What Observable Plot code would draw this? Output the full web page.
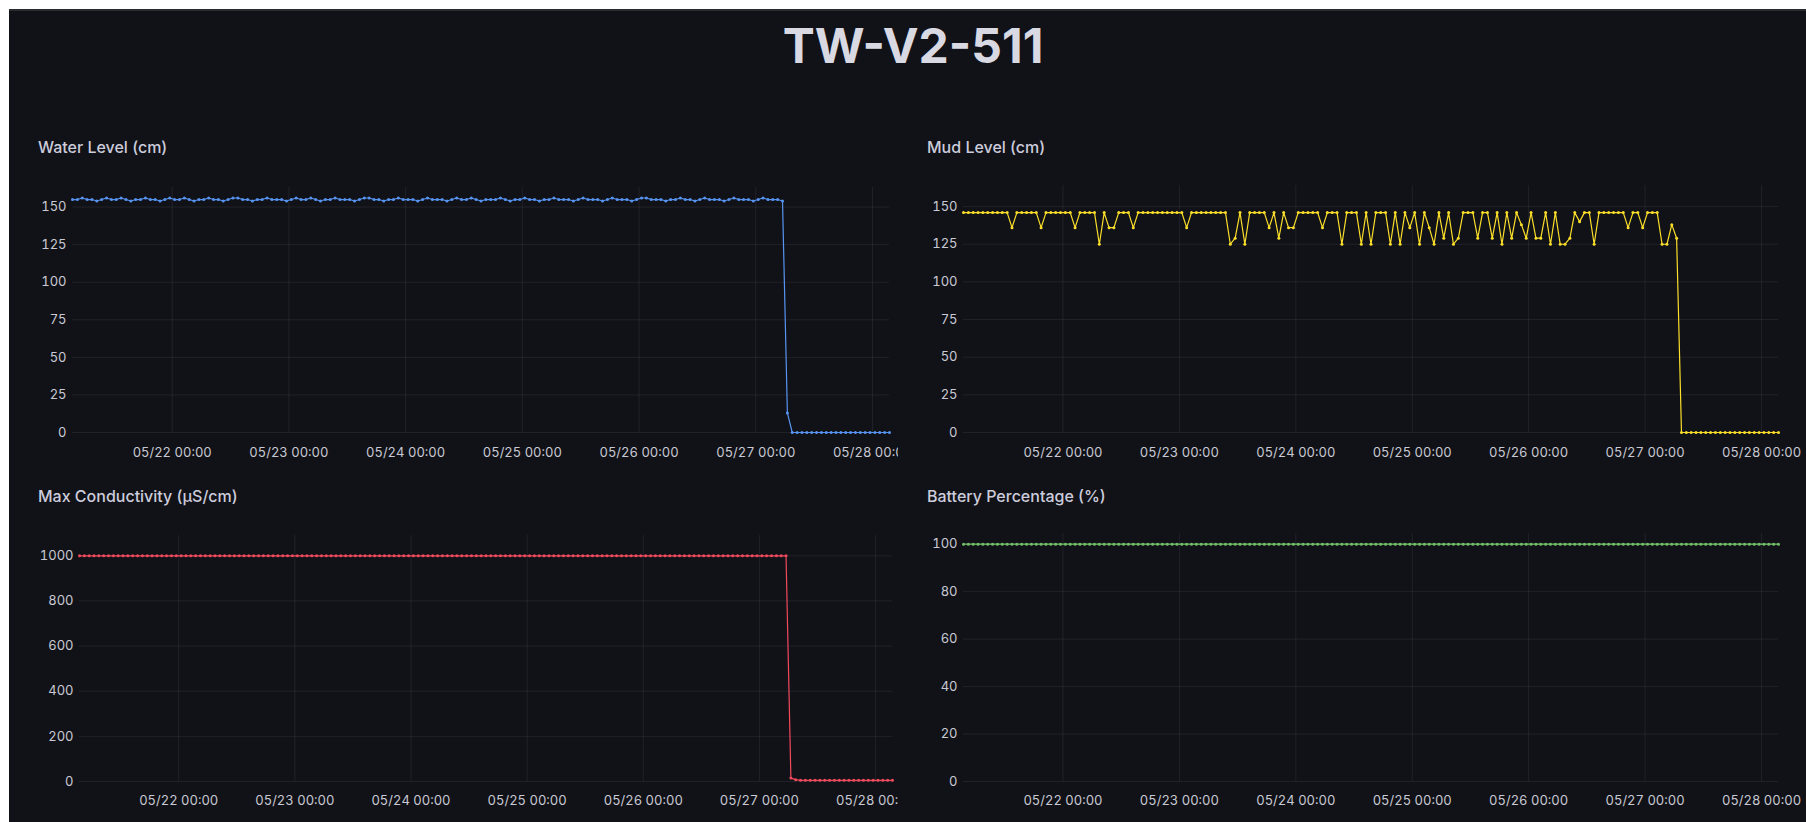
<!DOCTYPE html>
<html><head><meta charset="utf-8">
<script src="https://cdn.jsdelivr.net/npm/d3@7"></script>
<script src="https://cdn.jsdelivr.net/npm/@observablehq/plot@0.6"></script>
<style>
html,body{margin:0;padding:0;background:#ffffff;width:1806px;height:822px;overflow:hidden;font-family:Inter,"Noto Sans",sans-serif;}
#dash{position:absolute;left:9px;top:9px;width:1797px;height:813px;background:#111217;border-top:2px solid #2a2b31;box-sizing:border-box;}
#title{position:absolute;left:913px;top:18px;transform:translateX(-50%);font-size:48px;line-height:56px;font-weight:700;color:#d8d9e3;white-space:nowrap;letter-spacing:0px;}
.ptitle{position:absolute;font-size:16px;font-weight:500;color:#ccccdc;white-space:nowrap;line-height:18px;}
.clip{position:absolute;overflow:hidden;}
</style>
</head><body>
<div id="dash"></div>
<div id="title">TW-V2-511</div>
<script>
// ---- data (hourly readings starting 2024-05-21 03:30 UTC) ----
const firstReading = "2024-05-21T03:30:00Z";
const lastReading = "2024-05-28T03:30:00Z";
const xTickLabels = ["2024-05-22T00:00:00Z","2024-05-23T00:00:00Z","2024-05-24T00:00:00Z","2024-05-25T00:00:00Z","2024-05-26T00:00:00Z","2024-05-27T00:00:00Z","2024-05-28T00:00:00Z"];

const waterLevel = [
155,155,156,155,155,154,155,156,155,155,156,
155,154,155,155,156,155,155,154,155,156,
155,155,156,155,154,155,155,156,155,155,
154,155,156,156,155,155,154,155,155,156,
155,155,155,154,155,156,155,155,156,155,
154,155,155,156,155,155,155,154,155,156,
156,155,155,154,155,155,156,155,155,155,
154,155,156,155,155,155,154,155,156,155,
155,156,155,154,155,155,155,156,155,154,
155,155,156,155,155,154,155,155,156,155,
155,155,154,155,156,155,155,155,154,155,
156,155,155,155,154,155,156,156,155,155,
155,154,155,155,156,155,155,154,155,156,
155,155,155,154,155,156,155,155,155,154,
155,156,155,155,155,154,
13,
0,0,0,0,0,0,0,0,0,0,0,0,0,0,0,0,0,0,0,0,0
];

const mudLevel = [
146,
146,146,146,146,146,146,146,146,146,136,
146,146,146,146,146,136,146,146,146,146,
146,146,136,146,146,146,146,125,146,136,
136,146,146,146,136,146,146,146,146,146,
146,146,146,146,146,136,146,146,146,146,
146,146,146,146,125,129,146,125,146,146,
146,146,136,146,129,146,136,136,146,146,
146,146,146,136,146,146,146,125,146,146,
146,125,146,125,146,146,146,125,146,125,
146,136,146,125,146,136,125,146,129,146,
125,129,146,146,146,129,146,146,129,146,
125,146,129,146,138,129,146,129,129,146,
125,146,125,125,129,146,140,146,146,125,
146,146,146,146,146,146,136,146,146,136,
146,146,146,125,125,138,129,
0,0,0,0,0,0,0,0,0,0,0,0,0,0,0,0,0,0,0,0,0
];

const maxConductivity = [
1000,
1000,1000,1000,1000,1000,1000,1000,1000,1000,1000,
1000,1000,1000,1000,1000,1000,1000,1000,1000,1000,
1000,1000,1000,1000,1000,1000,1000,1000,1000,1000,
1000,1000,1000,1000,1000,1000,1000,1000,1000,1000,
1000,1000,1000,1000,1000,1000,1000,1000,1000,1000,
1000,1000,1000,1000,1000,1000,1000,1000,1000,1000,
1000,1000,1000,1000,1000,1000,1000,1000,1000,1000,
1000,1000,1000,1000,1000,1000,1000,1000,1000,1000,
1000,1000,1000,1000,1000,1000,1000,1000,1000,1000,
1000,1000,1000,1000,1000,1000,1000,1000,1000,1000,
1000,1000,1000,1000,1000,1000,1000,1000,1000,1000,
1000,1000,1000,1000,1000,1000,1000,1000,1000,1000,
1000,1000,1000,1000,1000,1000,1000,1000,1000,1000,
1000,1000,1000,1000,1000,1000,1000,1000,1000,1000,
1000,1000,1000,1000,1000,1000,
15,8,
5,5,5,5,5,5,5,5,5,5,5,5,5,5,5,5,5,5,5,5
];

const batteryPercentage = [
100,
100,100,100,100,100,100,100,100,100,100,
100,100,100,100,100,100,100,100,100,100,
100,100,100,100,100,100,100,100,100,100,
100,100,100,100,100,100,100,100,100,100,
100,100,100,100,100,100,100,100,100,100,
100,100,100,100,100,100,100,100,100,100,
100,100,100,100,100,100,100,100,100,100,
100,100,100,100,100,100,100,100,100,100,
100,100,100,100,100,100,100,100,100,100,
100,100,100,100,100,100,100,100,100,100,
100,100,100,100,100,100,100,100,100,100,
100,100,100,100,100,100,100,100,100,100,
100,100,100,100,100,100,100,100,100,100,
100,100,100,100,100,100,100,100,100,100,
100,100,100,100,100,100,100,100,100,100,
100,100,100,100,100,100,100,100,100,100,
100,100,100,100,100,100,100,100
];

const levelTicks = [0,25,50,75,100,125,150];
const conductivityTicks = [0,200,400,600,800,1000];
const batteryTicks = [0,20,40,60,80,100];

const panelTitles = ["Water Level (cm)","Mud Level (cm)","Max Conductivity (µS/cm)","Battery Percentage (%)"];

// ---- build ----
const t0 = new Date(firstReading);
const xDomain = [t0, new Date(lastReading)];
const xTicks = xTickLabels.map(d => new Date(d));
const fmt = d3.utcFormat("%m/%d %H:%M");
const toRows = vals => vals.map((v, i) => ({t: d3.utcHour.offset(t0, i), v}));

function panel(o) {
  const padTop = 12, padBottom = 34;
  const top = o.plotTop - padTop;
  const height = (o.plotBottom - o.plotTop) + padTop + padBottom;
  const width = o.clipRight - o.clipLeft;
  const rows = toRows(o.values);
  const chart = Plot.plot({
    width, height,
    marginLeft: o.plotLeft - o.clipLeft,
    marginRight: o.clipRight - o.plotRight,
    marginTop: padTop,
    marginBottom: padBottom,
    style: {background: "transparent", color: "#c8c9d4", fontFamily: "Inter, 'Noto Sans', sans-serif", fontSize: "13px", overflow: "visible"},
    x: {type: "utc", domain: xDomain},
    y: {domain: o.yDomain},
    marks: [
      Plot.gridX(xTicks, {stroke: "#ccccdc", strokeOpacity: 0.09}),
      Plot.gridY(o.yTicks, {stroke: "#ccccdc", strokeOpacity: 0.09}),
      Plot.axisX({ticks: xTicks, tickFormat: fmt, tickSize: 0, tickPadding: o.xPad, label: null}),
      Plot.axisY({ticks: o.yTicks, tickFormat: d => String(d), tickSize: 0, tickPadding: 6, label: null}),
      Plot.line(rows, {x: "t", y: "v", stroke: o.color, strokeWidth: 1.2}),
      Plot.dot(rows, {x: "t", y: "v", fill: o.color, r: 1.5})
    ]
  });
  const wrap = document.createElement("div");
  wrap.className = "clip";
  wrap.style.left = o.clipLeft + "px";
  wrap.style.top = top + "px";
  wrap.style.width = width + "px";
  wrap.style.height = height + "px";
  wrap.appendChild(chart);
  document.body.appendChild(wrap);
  const t = document.createElement("div");
  t.className = "ptitle";
  t.textContent = o.title;
  t.style.left = o.titleX + "px";
  t.style.top = (o.titleY - 9) + "px";
  document.body.appendChild(t);
}

panel({title: panelTitles[0], titleX: 38, titleY: 147, values: waterLevel, color: "#5794F2",
  yDomain: [0, 163], yTicks: levelTicks, plotLeft: 72, plotRight: 889, plotTop: 187, plotBottom: 432,
  clipLeft: 20, clipRight: 898, xPad: 15});
panel({title: panelTitles[1], titleX: 927, titleY: 147, values: mudLevel, color: "#FADE2A",
  yDomain: [0, 164], yTicks: levelTicks, plotLeft: 963, plotRight: 1778, plotTop: 185, plotBottom: 432,
  clipLeft: 912, clipRight: 1806, xPad: 15});
panel({title: panelTitles[2], titleX: 38, titleY: 496, values: maxConductivity, color: "#F2495C",
  yDomain: [0, 1090], yTicks: conductivityTicks, plotLeft: 79, plotRight: 892, plotTop: 535, plotBottom: 781,
  clipLeft: 20, clipRight: 898, xPad: 14});
panel({title: panelTitles[3], titleX: 927, titleY: 496, values: batteryPercentage, color: "#73BF69",
  yDomain: [0, 104.5], yTicks: batteryTicks, plotLeft: 963, plotRight: 1778, plotTop: 533, plotBottom: 781,
  clipLeft: 912, clipRight: 1806, xPad: 14});
</script>
</body></html>
